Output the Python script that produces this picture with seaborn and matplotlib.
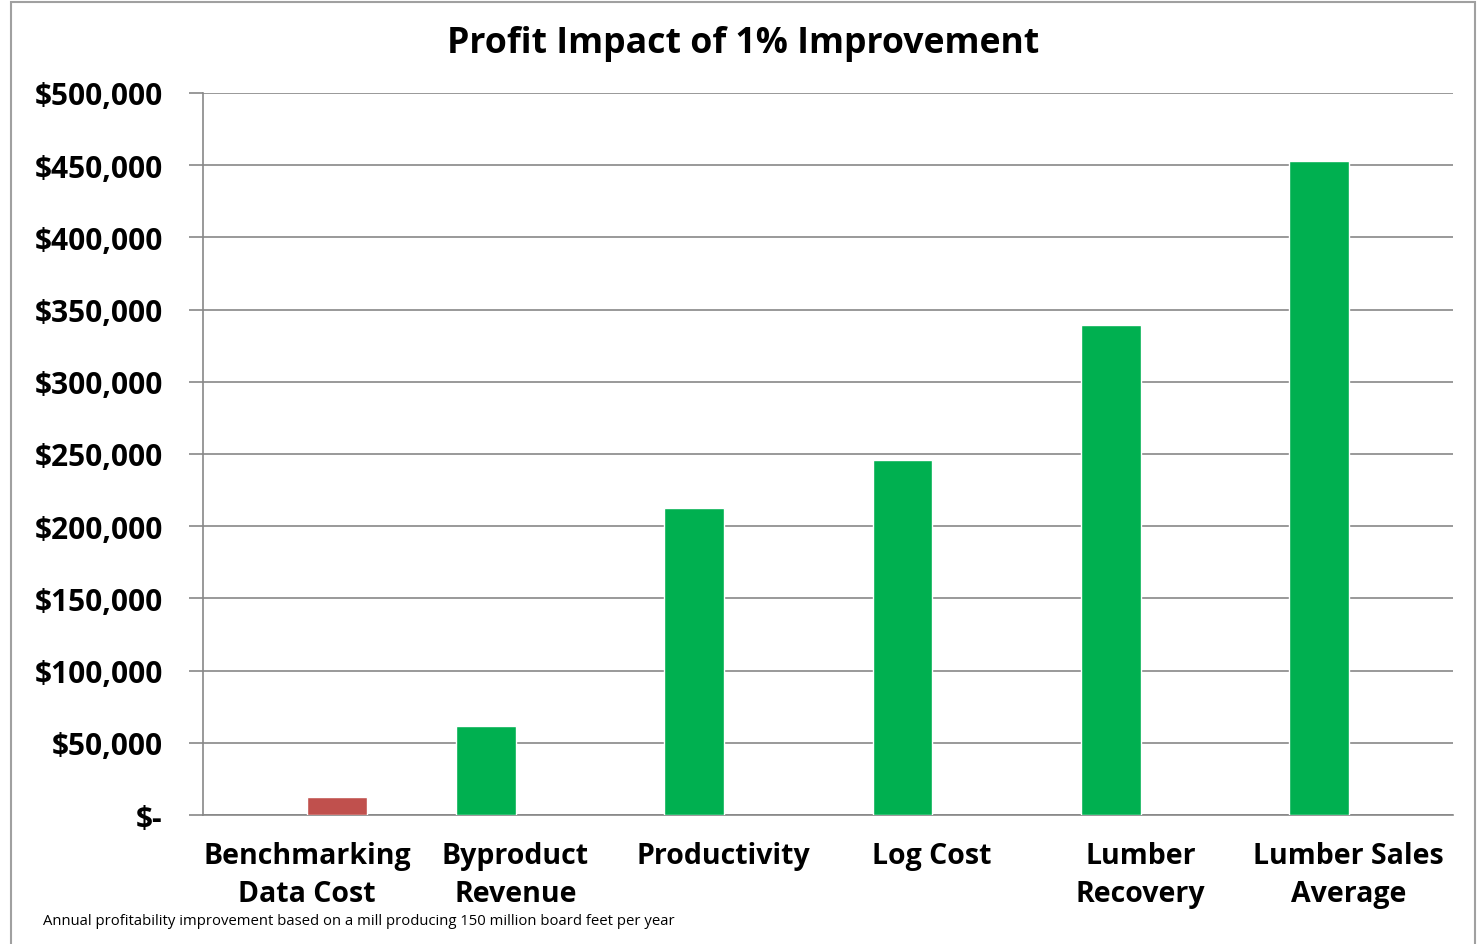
import matplotlib
matplotlib.use("Agg")
import matplotlib.pyplot as plt
import matplotlib.ticker as mticker
from matplotlib.patches import Rectangle
import seaborn as sns
import pandas as pd

categories = ["Benchmarking\nData Cost", "Byproduct\nRevenue", "Productivity",
              "Log Cost", "Lumber\nRecovery", "Lumber Sales\nAverage"]
series = ["Cost", "Benefit", "Benefit", "Benefit", "Benefit", "Benefit"]
values = [12500, 61500, 212500, 246000, 339500, 453000]
hue_order = ["Benefit", "Cost"]
palette = {"Benefit": "#00B050", "Cost": "#C0504D"}
yticks = list(range(0, 500001, 50000))

df = pd.DataFrame({"category": categories, "series": series, "value": values})

sns.set_theme(style="white")
plt.rcParams["font.family"] = ["Open Sans", "DejaVu Sans"]
plt.rcParams["text.color"] = "black"
plt.rcParams["xtick.color"] = "black"
plt.rcParams["ytick.color"] = "black"

W, H = 1478, 945
fig = plt.figure(figsize=(W / 100, H / 100), dpi=100)
ax = fig.add_axes([203 / W, 1 - 816 / H, (1453 - 203) / W, (816 - 94) / H])

sns.barplot(data=df, x="category", y="value", hue="series", hue_order=hue_order,
            order=categories, palette=palette, width=0.57, dodge=True, gap=0,
            saturation=1, legend=False, ax=ax, zorder=3)

ax.set_ylim(0, 500000)
ax.set_xlim(-0.5, len(categories) - 0.5)
ax.set_yticks(yticks)

def fmt(v, pos):
    return "$-" if v == 0 else "${:,.0f}".format(v)

ax.yaxis.set_major_formatter(mticker.FuncFormatter(fmt))
ax.grid(axis="y", color="#878787", linewidth=1.2, zorder=0)
ax.set_axisbelow(True)
for s in ["top", "right"]:
    ax.spines[s].set_visible(False)
for s in ["left", "bottom"]:
    ax.spines[s].set_color("#878787")
    ax.spines[s].set_linewidth(1.2)

ax.set_xlabel("")
ax.set_ylabel("")
ax.set_xticks([i - 0.5 for i in range(len(categories) + 1)], minor=True)
ax.tick_params(axis="x", which="minor", length=10, width=1.2, color="#878787", direction="out")
ax.tick_params(axis="x", which="major", length=0, pad=19, labelsize=20.5, labelcolor="black")
ax.tick_params(axis="y", which="major", length=10, width=1.2, color="#878787", direction="out",
               pad=19, labelsize=21.5, left=True, labelcolor="black")
for lab in ax.get_xticklabels():
    lab.set_fontweight("bold")
    lab.set_linespacing(1.4)
for lab in ax.get_yticklabels():
    lab.set_fontweight("bold")

fig.text(743 / W, 1 - 44 / H, "Profit Impact of 1% Improvement", ha="center", va="center",
         fontsize=25.7, fontweight="bold", color="black")
fig.text(43 / W, 1 - 922 / H,
         "Annual profitability improvement based on a mill producing 150 million board feet per year",
         ha="left", va="center", fontsize=10.7, color="black")

fig.patches.append(Rectangle((11 / W, -0.01), (1475 - 11) / W, 1 - 3 / H + 0.01,
                             transform=fig.transFigure, fill=False, edgecolor="#A0A0A0",
                             linewidth=1.5))

fig.savefig("out.png", dpi=100)
